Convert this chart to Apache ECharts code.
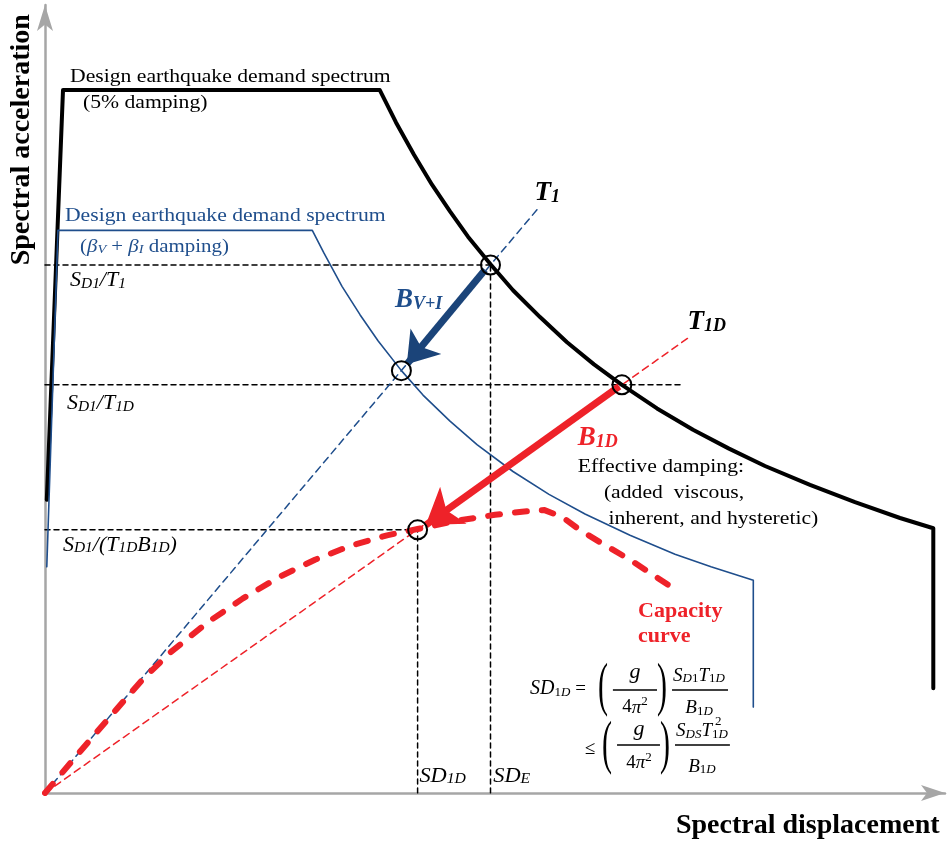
<!DOCTYPE html>
<html>
<head>
<meta charset="utf-8">
<script src="https://cdn.jsdelivr.net/npm/echarts@6/dist/echarts.min.js"></script>
<style>html,body{margin:0;padding:0;background:#fff}#main{width:947px;height:843px}</style>
</head>
<body>
<div id="main"></div>
<script>
// design spectrum, 5% damping: [Sd, Sa]
var demand5 = [[0.2,37.2],[2.0,89.2],[37.2,89.2],[39,85.1],[41,81.0],[43,77.2],[45,73.8],[47,70.6],
  [49.5,67.1],[52,63.8],[55,60.4],[58,57.2],[61,54.4],[64.1,51.8],[68,48.8],[72,46.1],[76,43.7],
  [80,41.5],[85,39.1],[90,36.9],[95,34.9],[98.7,33.6],[98.7,13.3]];
// design spectrum, (beta V + beta I) damping
var demandVI = [[0.2,28.7],[1.44,71.4],[29.7,71.4],[31,68.5],[33,64.3],[35,60.7],[37,57.4],[39.6,53.6],
  [42,50.5],[45,47.2],[48,44.2],[52,40.8],[56,37.9],[60,35.4],[65,32.7],[70,30.3],[74,28.7],
  [78.7,27.0],[78.7,10.9]];
// capacity curve
var capacity = [[0,0],[4,5.4],[8,10.7],[11,14.6],[14,17.9],[18,21.6],[22,24.7],[26,27.4],[30,29.6],
  [34,31.4],[38,32.7],[41.4,33.5],[46,34.6],[50,35.3],[53,35.7],[55.5,35.9],[57.5,35.0],[59.4,33.4],
  [62,31.6],[65,29.6],[69.8,26.0]];
// period lines
var lineT1 = [[0,0],[54.8,74.2]];
var lineT1D = [[0,0],[71.4,57.7]];
// performance points
var points = [[49.5,67.0],[39.6,53.6],[64.1,51.8],[41.4,33.4]];
// guide lines
var hGuides = [[[0,67.0],[49.5,67.0]],[[0,51.8],[70.9,51.8]],[[0,33.4],[41.4,33.4]]];
var vGuides = [[[49.5,0],[49.5,67.0]],[[41.4,0],[41.4,33.4]]];
// damping arrows
var arrowVI = [[48.9,66.4],[40.2,54.4]];
var arrow1D = [[63.8,51.6],[42.3,34.0]];

var blue = '#1f4e8c';
var red = '#ee2229';
var serif = '"Liberation Serif","Times New Roman",serif';

var myChart = echarts.init(document.getElementById('main'));

function line(data, color, width, type, z) {
  return {type:'line', data:data, symbol:'none', silent:true, z:z,
    lineStyle:{color:color, width:width, type:type, cap:'round', join:'round'}};
}

var series = [];
hGuides.concat(vGuides).forEach(function (g) { series.push(line(g, '#000', 1.5, [5,4], 2)); });
series.push(line(lineT1, blue, 1.5, [7,5], 3));
series.push(line(lineT1D, red, 1.5, [7,5], 3));
series.push(line(demand5, '#000', 4, 'solid', 4));
series.push(line(demandVI, blue, 1.6, 'solid', 5));
series.push(line(capacity, red, 6, [12,15], 6));
series.push({type:'lines', coordinateSystem:'cartesian2d', z:7, silent:true,
  symbol:['none','arrow'], symbolSize:[26,30],
  lineStyle:{color:'#1b4479', width:7, opacity:1},
  data:[{coords:arrowVI}]});
series.push({type:'lines', coordinateSystem:'cartesian2d', z:7, silent:true,
  symbol:['none','arrow'], symbolSize:[28,34],
  lineStyle:{color:red, width:7, opacity:1},
  data:[{coords:arrow1D}]});
series.push({type:'scatter', data:points, symbol:'circle', symbolSize:19, z:8, silent:true,
  itemStyle:{color:'rgba(0,0,0,0)', borderColor:'#000', borderWidth:2, opacity:1}});

function axis(max, size) {
  return {type:'value', min:0, max:max,
    axisLine:{show:true, symbol:['none','arrow'], symbolSize:size,
      lineStyle:{color:'#a6a6a6', width:2.5}},
    axisTick:{show:false}, axisLabel:{show:false}, splitLine:{show:false}};
}

var option = {
  animation:false,
  backgroundColor:'#fff',
  grid:{left:45, right:2, top:5, bottom:50},
  xAxis:axis(100, [12,24]),
  yAxis:axis(100, [12,26]),
  series:series
};
myChart.setOption(option);

// text styles
var rich = {
  n:{fontFamily:serif, fontSize:19, lineHeight:22, verticalAlign:'bottom'},
  i:{fontFamily:serif, fontStyle:'italic', fontSize:19, lineHeight:22, verticalAlign:'bottom'},
  g:{fontFamily:serif, fontStyle:'italic', fontSize:22, lineHeight:22, verticalAlign:'bottom'},
  s:{fontFamily:serif, fontStyle:'italic', fontSize:13, lineHeight:10, verticalAlign:'bottom'},
  su:{fontFamily:serif, fontSize:13, lineHeight:10, verticalAlign:'bottom'},
  p:{fontFamily:serif, fontSize:13, lineHeight:10, verticalAlign:'top'},
  I:{fontFamily:serif, fontStyle:'italic', fontSize:20, lineHeight:22, verticalAlign:'bottom'},
  S:{fontFamily:serif, fontStyle:'italic', fontSize:14, lineHeight:10, verticalAlign:'bottom'},
  B:{fontFamily:serif, fontStyle:'italic', fontWeight:'bold', fontSize:27, lineHeight:30, verticalAlign:'bottom'},
  Bs:{fontFamily:serif, fontStyle:'italic', fontWeight:'bold', fontSize:18, lineHeight:12, verticalAlign:'bottom'}
};

var notes = [
  {at:[2.78,91.1], text:'{n|Design earthquake demand spectrum}', sx:1.14},
  {at:[4.22,87.7], text:'{n|(5% damping)}', sx:1.14},
  {at:[2.22,73.35], text:'{n|Design earthquake demand spectrum}', color:blue, sx:1.14},
  {at:[3.89,69.5], text:'{n|(}{i|β}{s|V}{n| + }{i|β}{s|I}{n| damping)}', color:blue, sx:1.1},
  {at:[2.78,65.1], text:'{I|S}{S|D1}{I|/T}{S|1}', sx:1.1},
  {at:[2.44,49.5], text:'{I|S}{S|D1}{I|/T}{S|1D}', sx:1.1},
  {at:[2.0,31.5], text:'{I|S}{S|D1}{I|/(T}{S|1D}{I|B}{S|1D}{I|)}', sx:1.1},
  {at:[54.4,76.3], text:'{B|T}{Bs|1}'},
  {at:[71.4,60.0], text:'{B|T}{Bs|1D}'},
  {at:[38.9,62.8], text:'{B|B}{Bs|V+I}', color:blue},
  {at:[59.2,45.2], text:'{B|B}{Bs|1D}', color:red},
  {at:[59.2,41.5], text:'{n|Effective damping:}', sx:1.14},
  {at:[62.1,38.2], text:'{n|(added  viscous,}', sx:1.14},
  {at:[62.6,35.0], text:'{n|inherent, and hysteretic)}', sx:1.14},
  {at:[41.6,2.2], text:'{I|SD}{S|1D}', sx:1.12},
  {at:[49.8,2.2], text:'{I|SD}{S|E}', sx:1.12},
  // formula
  {at:[53.9,13.33], text:'{I|SD}{su|1}{s|D}'},
  {at:[59.5,13.33], text:'{n|=}', align:'center'},
  {at:[65.56,15.36], text:'{g|g}', align:'center'},
  {at:[65.56,11.04], text:'{n|4}{i|π}{p|2}', align:'center'},
  {at:[72.67,15.1], text:'{i|S}{s|D}{su|1}{i|T}{su|1}{s|D}', align:'center'},
  {at:[72.67,10.92], text:'{i|B}{su|1}{s|D}', align:'center'},
  {at:[60.56,5.71], text:'{n|≤}', align:'center'},
  {at:[66.0,8.12], text:'{g|g}', align:'center'},
  {at:[66.0,3.94], text:'{n|4}{i|π}{p|2}', align:'center'},
  {at:[73.0,8.0], text:'{i|S}{s|DS}{i|T}{su|1}{s|D}', align:'center'},
  {at:[74.8,8.85], text:'{su|2}', align:'center'},
  {at:[73.0,3.55], text:'{i|B}{su|1}{s|D}', align:'center'}
];
var fracBars = [[[63.1,13.07],[68.0,13.07]],[[69.67,13.07],[75.89,13.07]],
  [[63.56,6.09],[68.33,6.09]],[[70.0,6.09],[76.1,6.09]]];
var parens = [[62.0,13.33,'('],[68.56,13.33,')'],[62.44,5.97,'('],[68.89,5.97,')']];

function px(p) { return myChart.convertToPixel({gridIndex:0}, p); }

var graphics = [];
notes.forEach(function (t) {
  var p = px(t.at);
  graphics.push({type:'text', x:p[0], y:p[1], scaleX:t.sx || 1, z:100,
    style:{text:t.text, rich:rich, fill:t.color || '#000',
      align:t.align || 'left', verticalAlign:'middle'}});
});
fracBars.forEach(function (b) {
  var a = px(b[0]), c = px(b[1]);
  graphics.push({type:'line', z:100, shape:{x1:a[0], y1:a[1], x2:c[0], y2:c[1]},
    style:{stroke:'#000', lineWidth:1.3}});
});
parens.forEach(function (q) {
  var p = px([q[0], q[1]]);
  graphics.push({type:'text', x:p[0], y:p[1], scaleX:0.5, z:100,
    style:{text:q[2], font:'60px ' + serif, fill:'#000', align:'center', verticalAlign:'middle'}});
});
// axis titles
var ya = px([-2.56, 82.9]);
graphics.push({type:'text', x:ya[0], y:ya[1], rotation:Math.PI / 2, z:100,
  style:{text:'Spectral acceleration', font:'bold 28px ' + serif, fill:'#000', align:'center', verticalAlign:'middle'}});
var xa = px([99.4, -4.19]);
graphics.push({type:'text', x:xa[0], y:xa[1], z:100,
  style:{text:'Spectral displacement', font:'bold 28px ' + serif, fill:'#000', align:'right', verticalAlign:'middle'}});
// capacity curve label
var c1 = px([65.9, 23.0]), c2 = px([65.9, 19.9]);
graphics.push({type:'text', x:c1[0], y:c1[1], z:100,
  style:{text:'Capacity', font:'bold 22px ' + serif, fill:red, align:'left', verticalAlign:'middle'}});
graphics.push({type:'text', x:c2[0], y:c2[1], z:100,
  style:{text:'curve', font:'bold 22px ' + serif, fill:red, align:'left', verticalAlign:'middle'}});

myChart.setOption({graphic:graphics});
</script>
</body>
</html>
